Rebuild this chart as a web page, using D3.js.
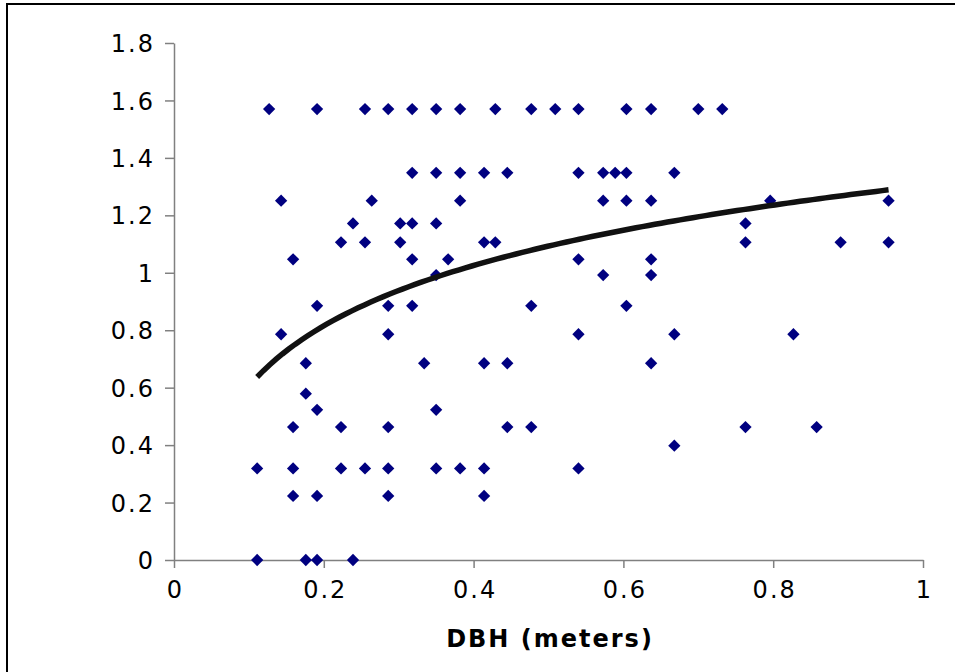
<!DOCTYPE html>
<html>
<head>
<meta charset="utf-8">
<script src="https://cdn.jsdelivr.net/npm/d3@7"></script>
<style>
  body { margin: 0; background: #fff; }
  svg text { font-family: "DejaVu Sans", Verdana, sans-serif; }
</style>
</head>
<body>
<svg id="chart" width="955" height="672"></svg>
<script>
// DBH (meters) and the matching value on the y axis, one entry per tree
var dbh = [
  0.127, 0.191, 0.255, 0.286, 0.318, 0.350, 0.382, 0.429, 0.477, 0.509, 0.540, 0.604, 0.637, 0.700, 0.732,
  0.318, 0.350, 0.382, 0.414, 0.445, 0.540, 0.573, 0.589, 0.604, 0.668,
  0.143, 0.264, 0.382, 0.573, 0.604, 0.637, 0.796, 0.954,
  0.239, 0.302, 0.318, 0.350, 0.763,
  0.223, 0.255, 0.302, 0.414, 0.429, 0.763, 0.890, 0.954,
  0.159, 0.318, 0.366, 0.540, 0.637,
  0.350, 0.573, 0.637,
  0.191, 0.286, 0.318, 0.477, 0.604,
  0.143, 0.286, 0.540, 0.668, 0.827,
  0.176, 0.334, 0.414, 0.445, 0.637,
  0.176,
  0.191, 0.350,
  0.159, 0.223, 0.286, 0.445, 0.477, 0.763, 0.858,
  0.668,
  0.111, 0.159, 0.223, 0.255, 0.286, 0.350, 0.382, 0.414, 0.540,
  0.159, 0.191, 0.286, 0.414,
  0.111, 0.176, 0.191, 0.239
];
var yval = [
  1.570, 1.570, 1.570, 1.570, 1.570, 1.570, 1.570, 1.570, 1.570, 1.570, 1.570, 1.570, 1.570, 1.570, 1.570,
  1.348, 1.348, 1.348, 1.348, 1.348, 1.348, 1.348, 1.348, 1.348, 1.348,
  1.251, 1.251, 1.251, 1.251, 1.251, 1.251, 1.251, 1.251,
  1.172, 1.172, 1.172, 1.172, 1.172,
  1.106, 1.106, 1.106, 1.106, 1.106, 1.106, 1.106, 1.106,
  1.047, 1.047, 1.047, 1.047, 1.047,
  0.992, 0.992, 0.992,
  0.885, 0.885, 0.885, 0.885, 0.885,
  0.786, 0.786, 0.786, 0.786, 0.786,
  0.685, 0.685, 0.685, 0.685, 0.685,
  0.579,
  0.523, 0.523,
  0.463, 0.463, 0.463, 0.463, 0.463, 0.463, 0.463,
  0.398,
  0.319, 0.319, 0.319, 0.319, 0.319, 0.319, 0.319, 0.319, 0.319,
  0.223, 0.223, 0.223, 0.223,
  0, 0, 0, 0
];
var xTicks = [0, 0.2, 0.4, 0.6, 0.8, 1];
var yTicks = [0, 0.2, 0.4, 0.6, 0.8, 1, 1.2, 1.4, 1.6, 1.8];
var xTitle = "DBH (meters)";
// log trend line y = a*ln(x) + b, coefficients
var trendA = 0.303, trendB = 1.303;

var svg = d3.select("#chart");

// outer chart frame (runs off the right and bottom edge)
svg.append("rect")
  .attr("x", 7).attr("y", 4)
  .attr("width", 1000).attr("height", 1000)
  .attr("fill", "none").attr("stroke", "#000").attr("stroke-width", 2);

var x = d3.scaleLinear().domain([0, 1]).range([174, 923]);
var y = d3.scaleLinear().domain([0, 1.8]).range([560, 43]);

var fmt = function(d) { return d3.format("")(+d.toFixed(1)); };

var gx = svg.append("g")
  .attr("transform", "translate(0,560)")
  .call(d3.axisBottom(x).tickValues(xTicks).tickSize(8).tickSizeOuter(0).tickPadding(0).tickFormat(fmt));
var gy = svg.append("g")
  .attr("transform", "translate(174,0)")
  .call(d3.axisLeft(y).tickValues(yTicks).tickSize(9).tickSizeOuter(0).tickPadding(0).tickFormat(fmt));

[gx, gy].forEach(function(g) {
  g.select(".domain").attr("stroke", "#808080").attr("stroke-width", 1.5);
  g.selectAll(".tick line").attr("stroke", "#808080").attr("stroke-width", 1.5);
  g.selectAll(".tick text")
    .attr("fill", "#000")
    .style("font-size", "24px")
    .style("letter-spacing", "2px");
});
gx.selectAll(".tick text").attr("y", 38).attr("dy", null).attr("dx", "1px");
gy.selectAll(".tick text").attr("x", -19).attr("dy", "0.36em");

svg.append("text")
  .attr("x", 550).attr("y", 647)
  .attr("text-anchor", "middle")
  .style("font-size", "24px").style("font-weight", "bold").style("letter-spacing", "2px")
  .text(xTitle);

var xmin = d3.min(dbh), xmax = d3.max(dbh);
var trend = d3.range(0, 101).map(function(k) {
  var xv = xmin + (xmax - xmin) * k / 100;
  return [xv, trendA * Math.log(xv) + trendB];
});

var pts = dbh.map(function(d, i) { return [d, yval[i]]; });
svg.append("g").selectAll("path")
  .data(pts)
  .enter().append("path")
  .attr("d", d3.symbol().type(d3.symbolDiamond2).size(96))
  .attr("transform", function(d) { return "translate(" + x(d[0]) + "," + y(d[1]) + ")"; })
  .attr("fill", "#000080");

svg.append("path")
  .datum(trend)
  .attr("fill", "none")
  .attr("stroke", "#111")
  .attr("stroke-width", 5.5)
  .attr("d", d3.line().x(function(d) { return x(d[0]); }).y(function(d) { return y(d[1]); }));
</script>
</body>
</html>
